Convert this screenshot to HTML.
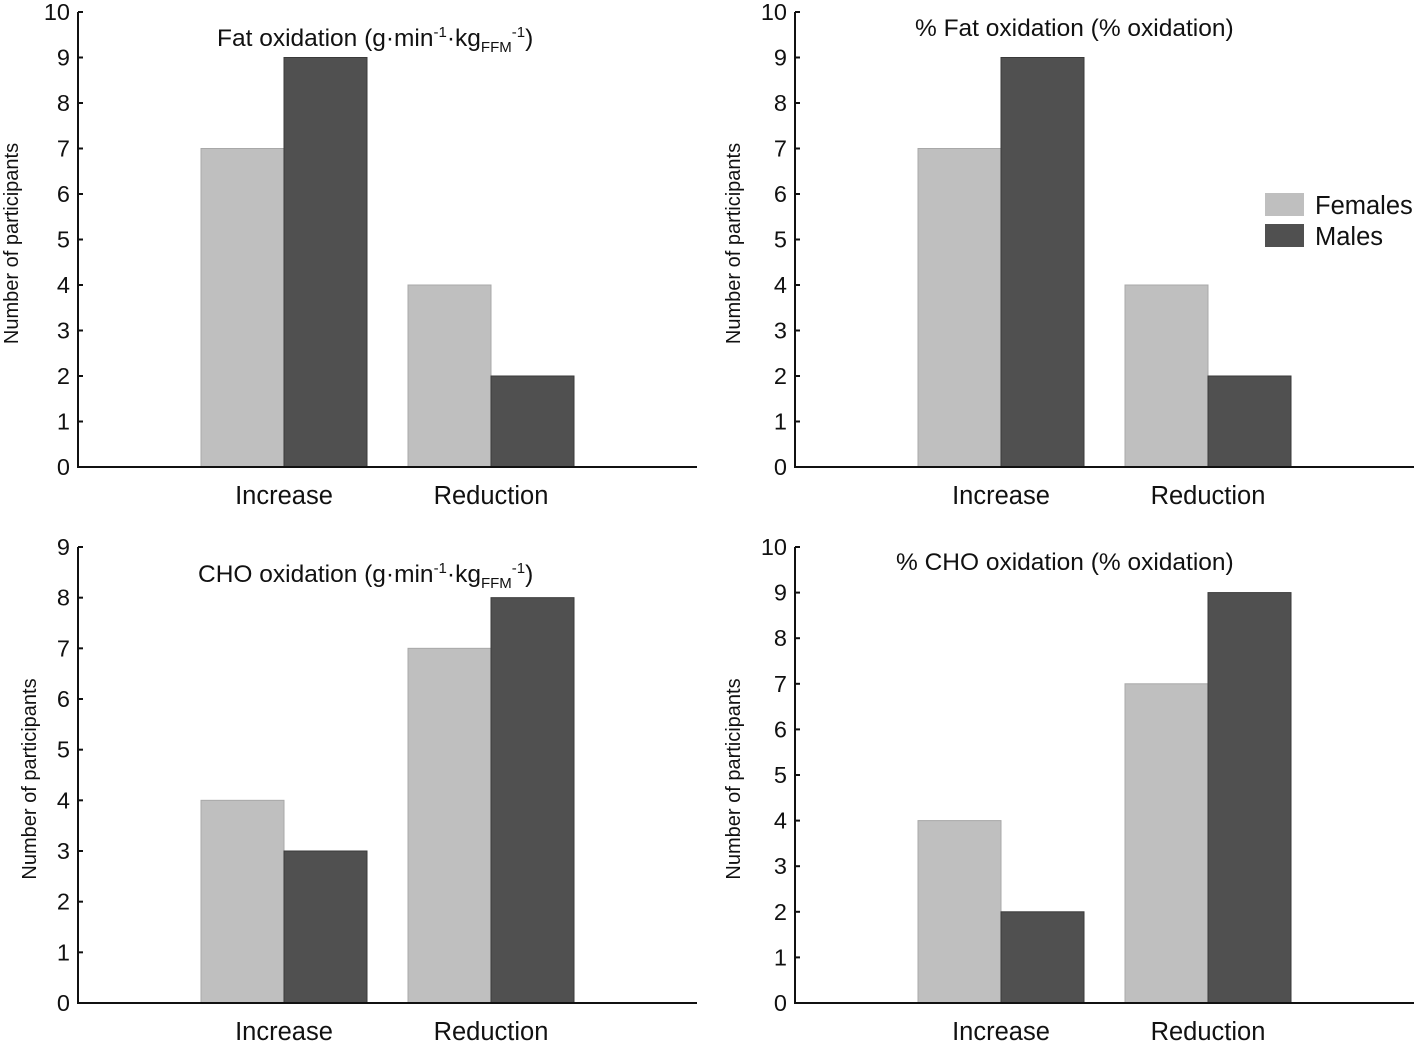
<!DOCTYPE html>
<html><head><meta charset="utf-8"><style>
body{margin:0;background:#fff}
svg{display:block;font-family:"Liberation Sans",Arial,sans-serif}
</style></head><body>
<svg id="c" width="1418" height="1042"></svg>
<script>
const categories=["Increase","Reduction"];
const femalesFat=[7,4];
const malesFat=[9,2];
const femalesPctFat=[7,4];
const malesPctFat=[9,2];
const femalesCho=[4,7];
const malesCho=[3,8];
const femalesPctCho=[4,7];
const malesPctCho=[2,9];
const sub='<tspan dy="-9" font-size="15">-1</tspan><tspan dy="9">·kg</tspan><tspan dy="6" font-size="15">FFM</tspan><tspan dy="-15" font-size="15">-1</tspan><tspan dy="9">)</tspan>';
const panels=[
 {name:"fat-oxidation",ax:78,top:12,bottom:467,right:697,ymax:10,f:femalesFat,m:malesFat,title:'Fat oxidation (g·min'+sub,tx:217,ty:46,lx:12},
 {name:"pct-fat-oxidation",ax:795,top:12,bottom:467,right:1414,ymax:10,f:femalesPctFat,m:malesPctFat,title:'% Fat oxidation (% oxidation)',tx:915,ty:36,lx:734},
 {name:"cho-oxidation",ax:78,top:547,bottom:1003,right:697,ymax:9,f:femalesCho,m:malesCho,title:'CHO oxidation (g·min'+sub,tx:198,ty:582,lx:30},
 {name:"pct-cho-oxidation",ax:795,top:547,bottom:1003,right:1414,ymax:10,f:femalesPctCho,m:malesPctCho,title:'% CHO oxidation (% oxidation)',tx:896,ty:570,lx:734}
];
const svg=document.getElementById('c');
const NS="http://www.w3.org/2000/svg";
function mk(tag,attrs,parent){const e=document.createElementNS(NS,tag);for(const k in attrs)e.setAttribute(k,attrs[k]);(parent||svg).appendChild(e);return e;}
panels.forEach(p=>{
 const g=mk('g',{});
 
 
 const y=v=>p.bottom-(v/p.ymax)*(p.bottom-p.top);
 const cx=i=>p.ax+206+i*207;
 categories.forEach((c,i)=>{
  const fb=mk('rect',{x:cx(i)-83,y:y(p.f[i]),width:83,height:p.bottom-y(p.f[i]),fill:'#bfbfbf',stroke:'#a8a8a8','stroke-width':1},g);
  
  
  const mb=mk('rect',{x:cx(i),y:y(p.m[i]),width:83,height:p.bottom-y(p.m[i]),fill:'#505050',stroke:'#3a3a3a','stroke-width':1},g);
  
  
  const t=mk('text',{x:cx(i),y:p.bottom+37,'font-size':25.5,'text-anchor':'middle',fill:'#111'},g);
  t.textContent=c;
  
  
 });
 mk('line',{x1:p.ax,y1:p.top,x2:p.ax,y2:p.bottom,stroke:'#111','stroke-width':2},g);
 mk('line',{x1:p.ax-1,y1:p.bottom,x2:p.right,y2:p.bottom,stroke:'#111','stroke-width':2},g);
 for(let v=0;v<=p.ymax;v++){
  mk('line',{x1:p.ax,y1:y(v),x2:p.ax+5,y2:y(v),stroke:'#111','stroke-width':2},g);
  const t=mk('text',{x:p.ax-8,y:y(v)+8,'font-size':23.5,'text-anchor':'end',fill:'#111'},g);
  t.textContent=v;
 }
 const yl=mk('text',{x:0,y:0,'font-size':20,'text-anchor':'middle',fill:'#111',transform:`translate(${p.lx+6},${(p.top+p.bottom)/2+4}) rotate(-90)`},g);
 yl.textContent='Number of participants';
 
 
 const tt=mk('text',{x:p.tx,y:p.ty,'font-size':24.5,fill:'#111'},g);
 tt.innerHTML=p.title;
 
 
});
const lg=mk('g',{});


mk('rect',{x:1265,y:193,width:39,height:23,fill:'#bfbfbf'},lg);
mk('rect',{x:1265,y:224,width:39,height:23,fill:'#505050'},lg);
const l1=mk('text',{x:1315,y:214,'font-size':25.5,fill:'#111'},lg);l1.textContent='Females';
const l2=mk('text',{x:1315,y:245,'font-size':25.5,fill:'#111'},lg);l2.textContent='Males';
</script>
</body></html>
